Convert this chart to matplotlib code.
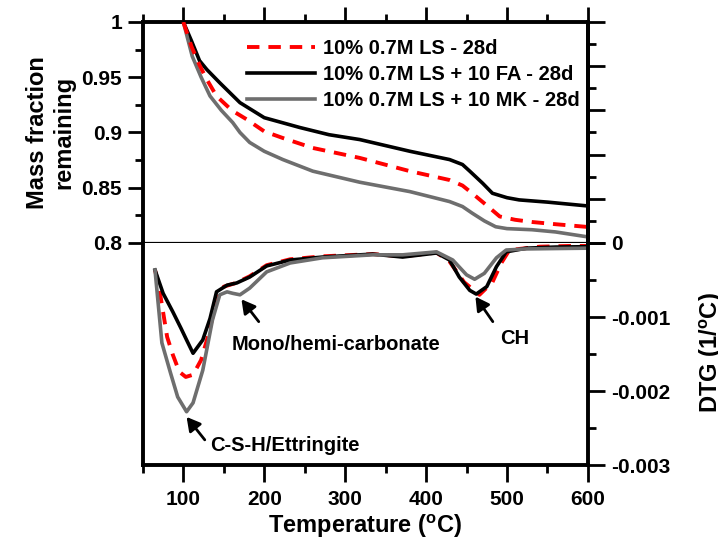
# TGA / DTG of 28d pastes

import numpy as np
import matplotlib.pyplot as plt
from matplotlib.ticker import MultipleLocator, FuncFormatter

plt.rcParams['font.family'] = ['Liberation Sans', 'DejaVu Sans']
plt.rcParams['font.weight'] = 'bold'
plt.rcParams['axes.labelweight'] = 'bold'
plt.rcParams['mathtext.fontset'] = 'custom'
plt.rcParams['mathtext.rm'] = 'Liberation Sans:bold'

labels = ['10% 0.7M LS - 28d', '10% 0.7M LS + 10 FA - 28d', '10% 0.7M LS + 10 MK - 28d']

# mass fraction remaining
t_ls = [100, 110, 120, 129, 141, 160, 178, 200, 223, 260, 318, 380, 429, 445, 457, 475, 491, 510, 531, 560, 600]
m_ls = [1.0, 0.978, 0.961, 0.948, 0.933, 0.92, 0.912, 0.901, 0.895, 0.886, 0.877, 0.865, 0.857, 0.852,
        0.845, 0.834, 0.824, 0.821, 0.819, 0.817, 0.8145]
t_fa = [100, 110, 120, 129, 145, 170, 200, 244, 280, 318, 380, 429, 445, 454, 470, 482, 500, 515, 550, 600]
m_fa = [1.0, 0.983, 0.965, 0.957, 0.945, 0.927, 0.9134, 0.9045, 0.898, 0.8936, 0.883, 0.8755, 0.871,
        0.865, 0.854, 0.845, 0.841, 0.839, 0.837, 0.8335]
t_mk = [100, 111, 122, 133, 147, 161, 170, 182, 200, 223, 260, 318, 380, 429, 445, 457, 472, 486, 500,
        531, 560, 600]
m_mk = [1.0, 0.969, 0.95, 0.933, 0.92, 0.909, 0.9, 0.891, 0.883, 0.8755, 0.865, 0.855, 0.8465, 0.8375,
        0.833, 0.827, 0.82, 0.8147, 0.813, 0.812, 0.81, 0.8055]

# DTG (x1e-3 1/C)
td_ls = [65, 70, 80, 87, 95, 103, 112, 122, 131, 141, 150, 165, 182, 203, 232, 272, 334, 371, 413, 429,
         447, 466, 482, 493, 503, 540, 577, 600]
d_ls = [-0.365, -0.6, -1.27, -1.51, -1.74, -1.81, -1.78, -1.58, -1.24, -0.77, -0.59, -0.54, -0.45, -0.30,
        -0.22, -0.18, -0.15, -0.18, -0.13, -0.25, -0.53, -0.70, -0.53, -0.27, -0.095, -0.05, -0.04, -0.04]
td_fa = [65, 75, 87, 97, 104, 112, 124, 133, 141, 154, 166, 182, 203, 232, 272, 334, 371, 413, 429, 441,
         454, 462, 475, 487, 499, 524, 560, 600]
d_fa = [-0.365, -0.68, -0.93, -1.15, -1.31, -1.49, -1.31, -1.02, -0.66, -0.57, -0.54, -0.46, -0.31, -0.23,
        -0.19, -0.15, -0.19, -0.135, -0.23, -0.46, -0.64, -0.69, -0.59, -0.32, -0.12, -0.07, -0.055, -0.05]
td_mk = [65, 73.5, 84, 93, 104, 112, 124, 136, 145, 154, 161, 170, 182, 203, 232, 272, 334, 371, 413, 433,
         450, 460, 472, 487, 499, 524, 560, 600]
d_mk = [-0.365, -1.35, -1.75, -2.08, -2.28, -2.16, -1.72, -1.04, -0.70, -0.66, -0.68, -0.70, -0.61, -0.39,
        -0.27, -0.20, -0.16, -0.16, -0.12, -0.23, -0.43, -0.49, -0.41, -0.20, -0.095, -0.08, -0.075, -0.07]

red = '#ff0000'
grey = '#6e6e6e'
lw = 2.6

fig = plt.figure(figsize=(7.18, 5.43), dpi=100)
ax1 = fig.add_axes([0.199, 0.5525, 0.6198, 0.407])
ax2 = fig.add_axes([0.199, 0.1436, 0.6198, 0.4089])

# top panel
ax1.plot(t_ls, m_ls, color=red, lw=2.8, dashes=(3.2, 2.3), label=labels[0], zorder=3)
ax1.plot(t_fa, m_fa, color='black', lw=lw, label=labels[1])
ax1.plot(t_mk, m_mk, color=grey, lw=lw, label=labels[2])
ax1.set_xlim(50, 600)
ax1.set_ylim(0.8, 1.0)
ax1.xaxis.tick_top()
ax1.xaxis.set_major_locator(MultipleLocator(100))
ax1.xaxis.set_minor_locator(MultipleLocator(50))
ax1.yaxis.set_major_locator(MultipleLocator(0.05))
ax1.yaxis.set_minor_locator(MultipleLocator(0.025))
ax1.yaxis.set_major_formatter(FuncFormatter(lambda v, p: '%g' % round(v, 3)))
ax1.tick_params(axis='x', which='both', labeltop=False, direction='out', width=2)
ax1.tick_params(axis='y', which='both', right=False, direction='out', width=2, labelsize=15, pad=4)
ax1.tick_params(which='major', length=11)
ax1.tick_params(which='minor', length=6)
ax1.set_ylabel('Mass fraction\nremaining', fontsize=17, labelpad=4)
for s in ['left', 'top', 'right']:
    ax1.spines[s].set_linewidth(2.8)
ax1.spines['bottom'].set_linewidth(1.6)

ax1r = ax1.twinx()
ax1r.set_ylim(0.8, 1.0)
ax1r.yaxis.set_major_locator(MultipleLocator(0.04))
ax1r.yaxis.set_minor_locator(MultipleLocator(0.02))
ax1r.tick_params(axis='y', which='both', labelright=False, direction='out', width=2)
ax1r.tick_params(which='major', length=12)
ax1r.tick_params(which='minor', length=6)
for s in ['left', 'top', 'bottom']:
    ax1r.spines[s].set_visible(False)
ax1r.spines['right'].set_linewidth(2.8)

ax1.legend(loc='upper left', bbox_to_anchor=(0.234, 0.925), frameon=False, fontsize=14.5,
           handlelength=3.4, handletextpad=0.35, labelspacing=0.35, borderpad=0, borderaxespad=0)

# bottom panel
ax2.plot(td_ls, np.array(d_ls) * 1e-3, color=red, lw=2.8, dashes=(3.2, 2.3), zorder=1)
ax2.plot(td_fa, np.array(d_fa) * 1e-3, color='black', lw=lw, zorder=2)
ax2.plot(td_mk, np.array(d_mk) * 1e-3, color=grey, lw=lw, zorder=2)
ax2.set_xlim(50, 600)
ax2.set_ylim(-0.003, 0)
ax2.xaxis.set_major_locator(MultipleLocator(100))
ax2.xaxis.set_minor_locator(MultipleLocator(50))
ax2.yaxis.tick_right()
ax2.yaxis.set_major_locator(MultipleLocator(0.001))
ax2.yaxis.set_minor_locator(MultipleLocator(0.0005))
ax2.yaxis.set_major_formatter(FuncFormatter(lambda v, p: '0' if abs(v) < 1e-9 else '%.3f' % v))
ax2.tick_params(axis='x', which='both', direction='out', width=2, labelsize=15, pad=6)
ax2.tick_params(axis='y', which='both', direction='out', width=2, labelsize=15, pad=5)
ax2.tick_params(which='major', length=12)
ax2.tick_params(which='minor', length=6)
ax2.spines['top'].set_visible(False)
for s in ['left', 'bottom', 'right']:
    ax2.spines[s].set_linewidth(2.8)
ax2.set_xlabel(r'Temperature ($\mathregular{^{o}}$C)', fontsize=17, labelpad=3)

for lbl in ax1.get_yticklabels() + ax2.get_xticklabels() + ax2.get_yticklabels():
    lbl.set_fontweight('bold')

fig.text(0.972, 0.35, r'DTG (1/$\mathregular{^{o}}$C)', rotation=90, va='center', ha='left',
         fontsize=17, fontweight='bold')

# peak labels
arrow = dict(arrowstyle='-|>,head_length=0.45,head_width=0.25', color='black', lw=2,
             mutation_scale=18, shrinkA=0, shrinkB=0)
ax2.text(132.7, -0.002807, 'C-S-H/Ettringite', fontsize=14.5, va='baseline')
ax2.annotate('', xy=(104, -0.00235), xytext=(126.5, -0.00266), arrowprops=arrow)
ax2.text(160, -0.001446, 'Mono/hemi-carbonate', fontsize=14.5, va='baseline')
ax2.annotate('', xy=(171.8, -0.000761), xytext=(193.2, -0.001063), arrowprops=arrow)
ax2.text(491, -0.001365, 'CH', fontsize=14.5, va='baseline')
ax2.annotate('', xy=(461, -0.000725), xytext=(482.5, -0.001063), arrowprops=arrow)

plt.savefig('out.png', dpi=100)
